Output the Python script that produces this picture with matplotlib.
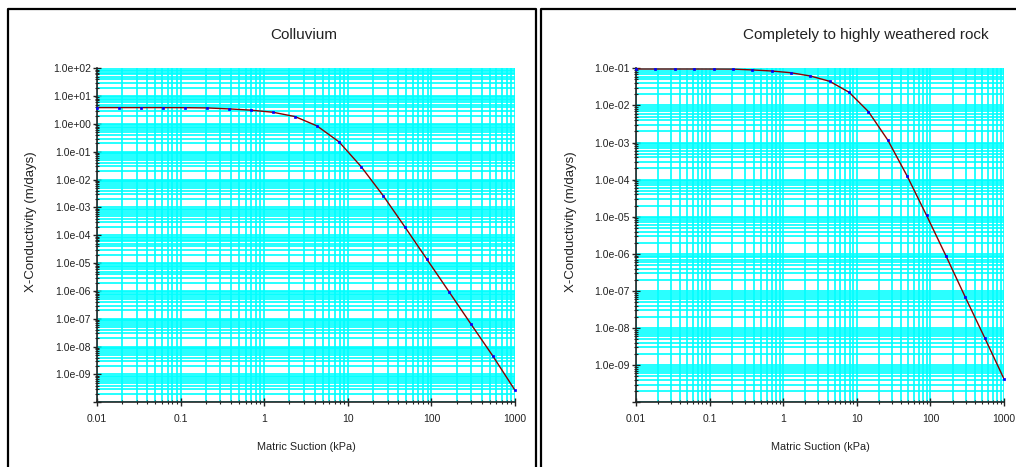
import matplotlib
matplotlib.use("Agg")
import matplotlib.pyplot as plt
from matplotlib.lines import Line2D
from matplotlib.ticker import LogLocator, NullFormatter, FixedLocator, FixedFormatter

plt.rcParams['font.family'] = ['Liberation Sans', 'DejaVu Sans']

# ---- data ----
suction = [0.01, 0.0183, 0.0336, 0.0616, 0.113, 0.207, 0.379, 0.695, 1.27, 2.34,
           4.28, 7.85, 14.4, 26.4, 48.3, 88.6, 162, 298, 546, 1000]
colluvium_k = [3.87, 3.87, 3.87, 3.87, 3.85, 3.77, 3.48, 3.13, 2.64, 1.84,
               0.852, 0.228, 0.0296, 2.69e-3, 1.98e-4, 1.36e-5, 9.5e-7, 6.4e-8, 4.5e-9, 2.7e-10]
rock_k = [0.0957, 0.0957, 0.0957, 0.0957, 0.0955, 0.0950, 0.0905, 0.0846, 0.076, 0.062,
          0.0446, 0.0226, 6.8e-3, 1.16e-3, 1.25e-4, 1.09e-5, 9.0e-7, 6.8e-8, 5.5e-9, 4.26e-10]

titles = ["Colluvium", "Completely to highly weathered rock"]
x_label = "Matric Suction (kPa)"
y_label = "X-Conductivity (m/days)"
x_ticks = [0.01, 0.1, 1, 10, 100, 1000]
x_tick_labels = ["0.01", "0.1", "1", "10", "100", "1000"]
left_y_exps = list(range(-9, 3))
right_y_exps = list(range(-9, 0))

W, H = 1016, 467
fig = plt.figure(figsize=(W / 100, H / 100), dpi=100)

def fx(px):
    return px / W

def fy(py):
    return 1 - py / H

# panel frames
for xs, ys in [([7.5, 7.5, 536, 536], [H + 5, 8.5, 8.5, H + 5]),
               ([541, 541, W + 5], [H + 5, 8.5, 8.5])]:
    fig.add_artist(Line2D([fx(x) for x in xs], [fy(y) for y in ys],
                          transform=fig.transFigure, color='black', lw=1.6))

def make_axes(left_px, right_px, data, exps, ylim_top, ylab_x):
    ax = fig.add_axes([fx(left_px), fy(402.3), (right_px - left_px) / W, (402.3 - 68.3) / H])
    ax.set_xscale('log')
    ax.set_yscale('log')
    ax.set_xlim(0.01, 1000)
    ax.set_ylim(1e-10, ylim_top)
    ax.plot(suction, data, color='#8B0000', lw=1.0, zorder=3)
    ax.plot(suction, data, ls='none', marker='s', ms=2.0, mfc='#0000FF', mec='#0000FF',
            mew=0.5, zorder=4, clip_on=False)

    ax.xaxis.set_major_locator(FixedLocator(x_ticks))
    ax.xaxis.set_major_formatter(FixedFormatter(x_tick_labels))
    ax.xaxis.set_minor_locator(LogLocator(base=10, subs=range(2, 10), numticks=20))
    ax.xaxis.set_minor_formatter(NullFormatter())

    yt = [10.0 ** e for e in exps]
    ax.yaxis.set_major_locator(FixedLocator([1e-10] + yt))
    ax.yaxis.set_major_formatter(FixedFormatter([""] + ["1.0e%+03d" % e for e in exps]))
    ax.yaxis.set_minor_locator(LogLocator(base=10, subs=range(2, 10), numticks=30))
    ax.yaxis.set_minor_formatter(NullFormatter())

    ax.set_axisbelow(True)
    for s in ['top', 'right']:
        ax.spines[s].set_visible(False)
    for s in ['left', 'bottom']:
        ax.spines[s].set_linewidth(1.2)
        ax.spines[s].set_color('#222222')

    ax.tick_params(axis='both', which='major', direction='inout', length=6, width=1.0,
                   colors='#222222', labelsize=7.5, labelcolor='#222222')
    ax.tick_params(axis='both', which='minor', direction='inout', length=3.5, width=0.8,
                   colors='#222222')
    ax.tick_params(axis='y', which='major', pad=1.5)
    ax.tick_params(axis='x', which='major', pad=5.5)
    ax.grid(True, which='both', color='#00FFFF', lw=1.2)

    ax.set_xlabel(x_label, fontsize=7.8, color='#222222')
    ax.xaxis.label.set_va('center')
    ax.xaxis.set_label_coords(0.5, (402.3 - 447) / 334)
    ax.set_ylabel(y_label, fontsize=9.5, color='#222222')
    ax.yaxis.label.set_va('center')
    ax.yaxis.set_label_coords((ylab_x - left_px) / (right_px - left_px), (402.3 - 221.7) / 334)
    return ax

make_axes(97, 515, colluvium_k, left_y_exps, 1e2, 30.7)
make_axes(636, 1004, rock_k, right_y_exps, 1e-1, 570.7)

fig.text(fx(304), fy(35), titles[0], ha='center', va='center', fontsize=11, color='#222222')
fig.text(fx(866), fy(35), titles[1], ha='center', va='center', fontsize=11, color='#222222')

fig.savefig("out.png", dpi=100)
